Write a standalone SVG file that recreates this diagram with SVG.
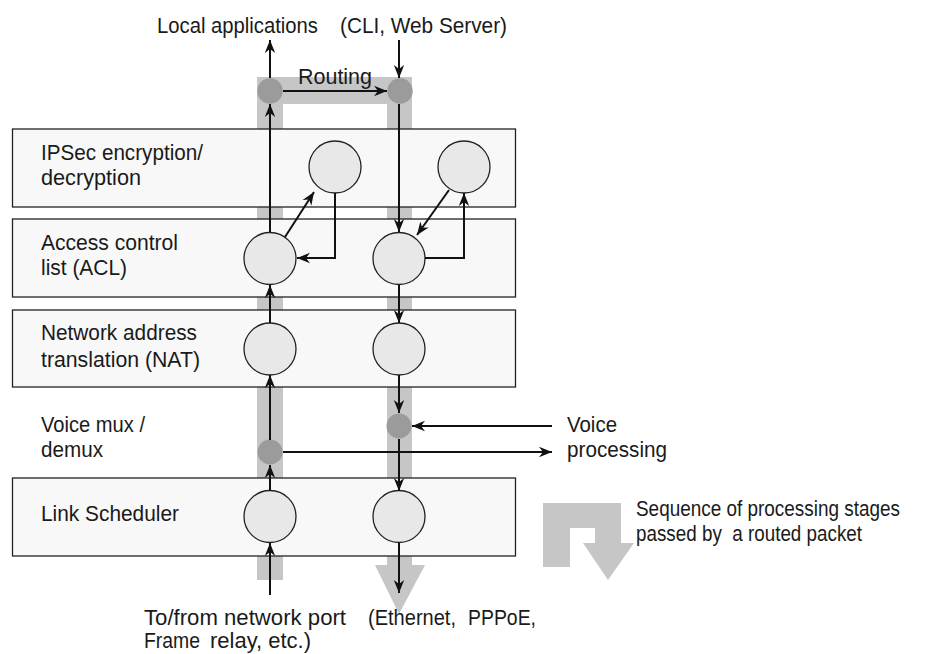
<svg xmlns="http://www.w3.org/2000/svg" width="928" height="654" viewBox="0 0 928 654">
<defs>
<style>
.t{font-family:"Liberation Sans",Arial,sans-serif;font-size:22px;fill:#1a1a1a}
.band{fill:#c6c6c6}
.layer{fill:#f8f8f8;stroke:#222;stroke-width:1.3}
.stage{fill:#e8e8e8;stroke:#222;stroke-width:1.3}
.dot{fill:#9b9b9b}
.c{fill:none;stroke:#111;stroke-width:2;marker-end:url(#ah)}
</style>
<marker id="ah" markerUnits="userSpaceOnUse" markerWidth="14" markerHeight="12" refX="13" refY="6" orient="auto">
<path d="M0,0.8 L13,6 L0,11.2 L4,6 Z" fill="#111"/>
</marker>
</defs>
<rect width="928" height="654" fill="#ffffff"/>

<g id="flow-bands">
<rect class="band" x="257" y="77" width="26" height="503"/>
<rect class="band" x="387" y="77" width="25" height="489"/>
<rect class="band" x="257" y="77" width="155" height="27"/>
<polygon class="band" points="375,565 425,565 399,614"/>
</g>

<g id="layer-ipsec"><rect class="layer" x="12.5" y="129" width="503" height="78"/>
<text class="t" x="41" y="160" textLength="162" lengthAdjust="spacingAndGlyphs">IPSec encryption/</text>
<text class="t" x="41" y="185" textLength="100" lengthAdjust="spacingAndGlyphs">decryption</text></g>
<g id="layer-acl"><rect class="layer" x="12.5" y="219" width="503" height="78"/>
<text class="t" x="41" y="250" textLength="137" lengthAdjust="spacingAndGlyphs">Access control</text>
<text class="t" x="41" y="275" textLength="86" lengthAdjust="spacingAndGlyphs">list (ACL)</text></g>
<g id="layer-nat"><rect class="layer" x="12.5" y="310" width="503" height="77"/>
<text class="t" x="41" y="340" textLength="156" lengthAdjust="spacingAndGlyphs">Network address</text>
<text class="t" x="41" y="367" textLength="159" lengthAdjust="spacingAndGlyphs">translation (NAT)</text></g>
<g id="layer-voice">
<text class="t" x="41" y="432" textLength="104" lengthAdjust="spacingAndGlyphs">Voice mux /</text>
<text class="t" x="41" y="457" textLength="62" lengthAdjust="spacingAndGlyphs">demux</text></g>
<g id="layer-link"><rect class="layer" x="12.5" y="478" width="503" height="78"/>
<text class="t" x="41" y="521" textLength="138" lengthAdjust="spacingAndGlyphs">Link Scheduler</text></g>

<g id="node-ipsec-in"><circle class="stage" cx="335" cy="167" r="26"/></g>
<g id="node-ipsec-out"><circle class="stage" cx="464" cy="167" r="26"/></g>
<g id="node-acl-in"><circle class="stage" cx="270" cy="258.5" r="26"/></g>
<g id="node-acl-out"><circle class="stage" cx="399" cy="258.5" r="26"/></g>
<g id="node-nat-in"><circle class="stage" cx="270" cy="349" r="26"/></g>
<g id="node-nat-out"><circle class="stage" cx="399" cy="349" r="26"/></g>
<g id="node-link-in"><circle class="stage" cx="270" cy="516.5" r="26"/></g>
<g id="node-link-out"><circle class="stage" cx="399" cy="516.5" r="26"/></g>
<g id="node-route-in"><circle class="dot" cx="270" cy="91" r="12.7"/></g>
<g id="node-route-out"><circle class="dot" cx="400" cy="91" r="12.7"/></g>
<g id="node-voice-demux"><circle class="dot" cx="270" cy="452" r="12.5"/></g>
<g id="node-voice-mux"><circle class="dot" cx="399" cy="426" r="12.5"/></g>

<g id="connectors">
<line class="c" x1="270" y1="595" x2="270" y2="543"/>
<line class="c" x1="270" y1="491" x2="270" y2="465"/>
<line class="c" x1="270" y1="440" x2="270" y2="375"/>
<line class="c" x1="270" y1="323" x2="270" y2="285"/>
<line class="c" x1="270" y1="232" x2="270" y2="104"/>
<line class="c" x1="270" y1="78" x2="270" y2="40"/>
<line class="c" x1="283" y1="91" x2="387" y2="91"/>
<line class="c" x1="399" y1="40" x2="399" y2="78"/>
<line class="c" x1="399" y1="104" x2="399" y2="232"/>
<line class="c" x1="399" y1="285" x2="399" y2="323"/>
<line class="c" x1="399" y1="375" x2="399" y2="413"/>
<line class="c" x1="399" y1="439" x2="399" y2="491"/>
<line class="c" x1="399" y1="543" x2="399" y2="593"/>
<line class="c" x1="285" y1="237" x2="314" y2="192"/>
<polyline class="c" points="335,193 335,258 297,258"/>
<line class="c" x1="449" y1="190" x2="417" y2="235"/>
<polyline class="c" points="425,258 464,258 464,193"/>
<line class="c" x1="552" y1="426" x2="412" y2="426"/>
<line class="c" x1="283" y1="452" x2="552" y2="452"/>
</g>

<g id="labels">
<text class="t" x="157" y="33" textLength="161" lengthAdjust="spacingAndGlyphs">Local applications</text>
<text class="t" x="340" y="33" textLength="167" lengthAdjust="spacingAndGlyphs">(CLI, Web Server)</text>
<text class="t" x="298" y="84" textLength="74" lengthAdjust="spacingAndGlyphs">Routing</text>
<text class="t" x="567" y="432" textLength="50" lengthAdjust="spacingAndGlyphs">Voice</text>
<text class="t" x="567" y="457" textLength="100" lengthAdjust="spacingAndGlyphs">processing</text>
<text class="t" x="144" y="625" textLength="202" lengthAdjust="spacingAndGlyphs">To/from network port</text>
<text class="t" x="368" y="625" textLength="88" lengthAdjust="spacingAndGlyphs">(Ethernet,</text>
<text class="t" x="468" y="625" textLength="68" lengthAdjust="spacingAndGlyphs">PPPoE,</text>
<text class="t" x="144" y="648" textLength="56" lengthAdjust="spacingAndGlyphs">Frame</text>
<text class="t" x="210" y="648" textLength="101" lengthAdjust="spacingAndGlyphs">relay, etc.)</text>
</g>

<g id="legend">
<polygon class="band" points="543,503 621,503 621,543 634,543 608,580 583,543 595,543 595,528 570,528 570,567 543,567"/>
<text class="t" x="636" y="516" textLength="264" lengthAdjust="spacingAndGlyphs">Sequence of processing stages</text>
<text class="t" x="636" y="541" textLength="226" lengthAdjust="spacingAndGlyphs" xml:space="preserve">passed by  a routed packet</text>
</g>
</svg>
